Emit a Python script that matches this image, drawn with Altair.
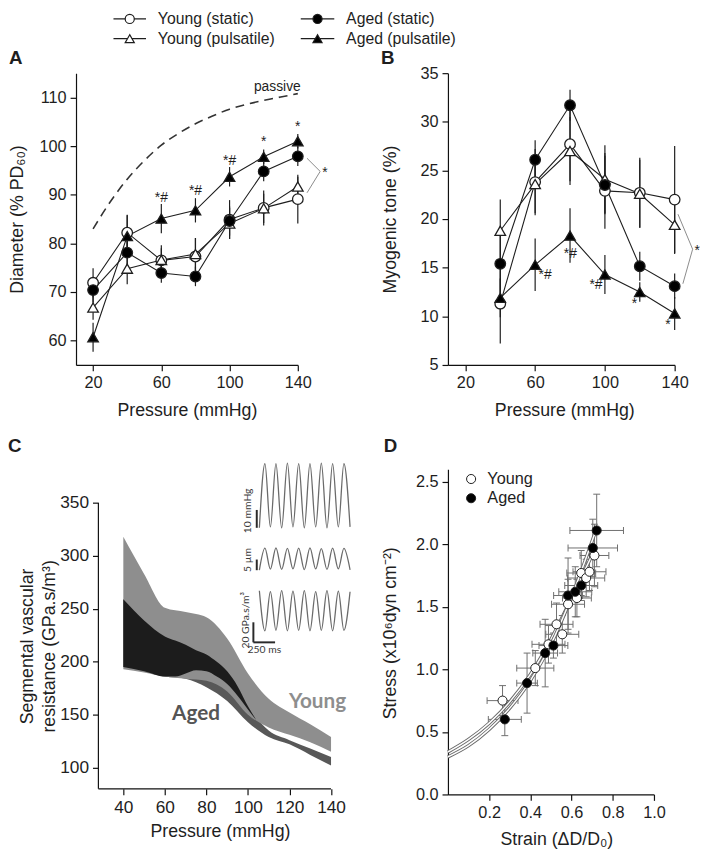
import altair as alt
import pandas as pd

FONT = "Liberation Sans"
INK = "#1e1e1e"

# ---------------- Panel A : diameter ----------------
pressure_A = [20, 40, 60, 80, 100, 120, 140]
young_static_A = [71.9, 82.2, 76.5, 77.3, 84.9, 87.3, 89.1]
young_static_A_err = [3.0, 3.7, 2.5, 3.8, 4.0, 3.6, 5.0]
young_pulsatile_A = [66.8, 74.8, 76.6, 77.8, 84.1, 87.2, 91.7]
young_pulsatile_A_err = [2.5, 3.2, 3.0, 3.3, 3.2, 3.0, 2.0]
aged_static_A = [70.4, 78.1, 73.9, 73.2, 84.6, 94.8, 97.9]
aged_static_A_err = [2.5, 3.5, 2.0, 2.0, 3.0, 2.0, 2.0]
aged_pulsatile_A = [60.7, 81.5, 85.1, 86.8, 93.7, 97.8, 101.0]
aged_pulsatile_A_err = [3.0, 4.3, 3.0, 2.5, 2.0, 1.5, 1.5]

passive_pressure = [20, 30, 40, 50, 60, 70, 80, 90, 100, 110, 120, 130, 140]
passive_diameter = [83.0, 88.5, 93.2, 97.0, 100.2, 102.6, 104.6, 106.2, 107.6, 108.6, 109.4, 110.1, 110.8]

sig_A_pressure = [60, 80, 100, 120, 140]
sig_A_level = [89.4, 90.8, 96.9, 100.8, 103.9]
sig_A_text = ["*#", "*#", "*#", "*", "*"]
bracket_A_pressure = [145.4, 153.1, 145.4]
bracket_A_level = [97.5, 94.8, 90.4]

# ---------------- Panel B : myogenic tone ----------------
pressure_B = [40, 60, 80, 100, 120, 140]
young_static_B = [11.3, 23.8, 27.7, 22.9, 22.7, 22.0]
young_static_B_err = [4.1, 3.4, 3.8, 3.9, 3.6, 5.5]
young_pulsatile_B = [18.8, 23.6, 27.0, 24.1, 22.6, 19.4]
young_pulsatile_B_err = [3.2, 3.0, 3.5, 3.5, 3.5, 3.0]
aged_static_B = [15.4, 26.1, 31.7, 23.5, 15.15, 13.1]
aged_static_B_err = [3.0, 2.0, 1.6, 3.0, 1.5, 1.3]
aged_pulsatile_B = [11.9, 15.3, 18.3, 14.3, 12.5, 10.3]
aged_pulsatile_B_err = [2.0, 2.7, 2.8, 2.0, 1.0, 1.7]

sig_B_pressure = [65.7, 80.2, 94.9, 116.9, 136.2]
sig_B_level = [14.2, 16.4, 13.25, 11.3, 9.1]
sig_B_text = ["*#", "*#", "*#", "*", "*"]
bracket_B_pressure = [141.9, 150.3, 144.7]
bracket_B_level = [20.5, 16.9, 13.35]

# ---------------- Panel C : segmental resistance bands ----------------
pressure_C = [40, 50, 60, 70, 80, 90, 100, 110, 120, 130, 140]
young_hi_C = [318, 283, 251, 247, 242, 222, 189, 165, 152, 141, 129]
young_lo_C = [193, 190, 186, 184, 182, 172, 150, 138, 131, 124, 115]
aged_hi_C = [259, 239, 224, 216, 207, 191, 158, 135, 126, 118, 110]
aged_lo_C = [195, 191, 186, 184, 176, 163, 143, 129, 122, 112, 102]
pressure_C_overlap = [40, 50, 60, 65, 70, 75, 80, 85, 90, 95, 100, 104]
overlap_hi_C = [259, 239, 224, 220, 216, 211, 207, 200, 191, 177, 158, 145]
overlap_lo_C = [195, 191, 186, 186, 189, 192, 191, 186, 179, 168, 155, 145]

# inset traces (time in ms)
inset_time = [0, 64, 127, 191, 257, 323, 387, 453, 518, 583, 649, 714, 779, 844, 910, 974, 1045]
pressure_trace = [42, 78, 42.5, 78, 42, 78.2, 42.5, 78, 42, 78, 42.5, 78.2, 42, 78, 42.5, 78, 42.5]
diameter_trace = [140, 150.3, 140.5, 150.5, 140.4, 150.2, 140.6, 150.4, 140.3, 150.5, 140.6, 150.1, 140.4, 150.3, 140.6, 150.2, 140.2]
resistance_trace = [220, 180, 219, 180.5, 220, 180, 219.5, 180.5, 220, 180, 219, 180.5, 220, 180, 219.5, 180.5, 219]

# ---------------- Panel D : stress-strain ----------------
young_strain = [0.265, 0.424, 0.488, 0.527, 0.555, 0.583, 0.626, 0.647, 0.671, 0.687, 0.711]
young_stress = [0.75, 1.01, 1.20, 1.36, 1.28, 1.52, 1.57, 1.77, 1.73, 1.78, 1.91]
young_strain_err = [0.075, 0.09, 0.08, 0.08, 0.08, 0.08, 0.07, 0.07, 0.09, 0.08, 0.07]
young_stress_err = [0.12, 0.14, 0.15, 0.17, 0.15, 0.20, 0.15, 0.18, 0.15, 0.15, 0.25]
aged_strain = [0.276, 0.384, 0.472, 0.512, 0.583, 0.618, 0.647, 0.703, 0.722]
aged_stress = [0.60, 0.89, 1.13, 1.19, 1.59, 1.62, 1.67, 1.97, 2.11]
aged_strain_err = [0.08, 0.05, 0.06, 0.07, 0.07, 0.08, 0.08, 0.12, 0.13]
aged_stress_err = [0.13, 0.24, 0.27, 0.10, 0.30, 0.20, 0.12, 0.23, 0.29]
young_fit_strain = [0.0, 0.1, 0.2, 0.3, 0.4, 0.5, 0.6, 0.71]
young_fit_stress = [0.34, 0.44, 0.57, 0.74, 0.96, 1.24, 1.57, 1.95]
aged_fit_strain = [0.0, 0.1, 0.2, 0.3, 0.4, 0.5, 0.6, 0.72]
aged_fit_stress = [0.30, 0.39, 0.52, 0.69, 0.91, 1.20, 1.58, 2.12]

groups = ["Young (static)", "Young (pulsatile)", "Aged (static)", "Aged (pulsatile)"]
group_shapes = ["circle", "triangle-up", "circle", "triangle-up"]
group_fills = ["white", "white", "black", "black"]

# ---------------- layout ----------------
A_W, A_H = 225, 296
B_W, B_H = 230, 296
C_PX = 2.107          # px per mmHg in panel C
C_PY = 1.0736         # px per GPa.s/m3 in panel C
C_DX, C_DY = 22.7, 34.3   # offset of C's axes inside its (wider/taller) cell
C_W = 236 + C_DX
C_H = 290 + C_DY
D_W, D_H = 209, 330

one = pd.DataFrame({"a": [0]})


def letter(txt, x, y):
    return alt.Chart(one).mark_text(font=FONT, fontSize=19, fontWeight="bold", color=INK,
                                    align="left", baseline="middle").encode(
        x=alt.value(x), y=alt.value(y), text=alt.value(txt))


def series_panel(pressures, series, errs, xs, ys, xaxis, yaxis):
    rows = []
    for g, vals, es in zip(groups, series, errs):
        for p, v, e in zip(pressures, vals, es):
            rows.append({"p": p, "v": v, "e": e, "g": g})
    df = pd.DataFrame(rows)
    base = alt.Chart(df)
    err = base.transform_calculate(lo="datum.v - datum.e", hi="datum.v + datum.e").mark_rule(
        color=INK, strokeWidth=1.2).encode(
        x=alt.X("p:Q", scale=xs, axis=xaxis), y=alt.Y("lo:Q", scale=ys, axis=yaxis), y2="hi:Q")
    line = base.mark_line(color=INK, strokeWidth=1.1).encode(
        x=alt.X("p:Q", scale=xs, axis=xaxis), y=alt.Y("v:Q", scale=ys, axis=yaxis),
        detail="g:N", order="p:Q")
    pts = base.mark_point(filled=True, stroke=INK, strokeWidth=1.3, opacity=1, size=115).encode(
        x=alt.X("p:Q", scale=xs, axis=xaxis), y=alt.Y("v:Q", scale=ys, axis=yaxis),
        shape=alt.Shape("g:N", scale=alt.Scale(domain=groups, range=group_shapes), legend=None),
        fill=alt.Fill("g:N", scale=alt.Scale(domain=groups, range=group_fills), legend=None))
    return [err, line, pts]


def sig_layers(px, lv, txt, bx, by, xs, ys):
    sig = alt.Chart(pd.DataFrame({"p": px, "v": lv, "s": txt})).mark_text(
        font=FONT, fontSize=14, color=INK, baseline="middle").encode(
        x=alt.X("p:Q", scale=xs), y=alt.Y("v:Q", scale=ys), text="s:N")
    br = pd.DataFrame({"p": bx, "v": by, "i": list(range(len(bx)))})
    bracket = alt.Chart(br).mark_line(color="#8a8a8a", strokeWidth=1).encode(
        x=alt.X("p:Q", scale=xs), y=alt.Y("v:Q", scale=ys), order="i:Q")
    star = alt.Chart(br.iloc[[1]]).mark_text(font=FONT, fontSize=14, color=INK, align="left",
                                             dx=2, dy=2).encode(
        x=alt.X("p:Q", scale=xs), y=alt.Y("v:Q", scale=ys), text=alt.value("*"))
    return [sig, bracket, star]


# ---------------- Panel A ----------------
a_xs = alt.Scale(domain=[10, 140], nice=False, zero=False)
a_ys = alt.Scale(domain=[55, 115], nice=False, zero=False)
a_xaxis = alt.Axis(values=pressure_A, title="Pressure (mmHg)", titleX=A_W / 2, titleY=46)
a_yaxis = alt.Axis(values=[60, 70, 80, 90, 100, 110], title="Diameter (% PD₆₀)", titleX=-59.5, titleY=A_H / 2)

passive = alt.Chart(pd.DataFrame({"p": passive_pressure, "v": passive_diameter})).mark_line(
    color="#333333", strokeWidth=1.6, strokeDash=[9, 6], interpolate="monotone").encode(
    x=alt.X("p:Q", scale=a_xs, axis=a_xaxis), y=alt.Y("v:Q", scale=a_ys, axis=a_yaxis))
passive_lbl = alt.Chart(one).mark_text(font=FONT, fontSize=14, color=INK).encode(
    x=alt.datum(128, scale=a_xs), y=alt.datum(112.2, scale=a_ys), text=alt.value("passive"))

legend_layers = []
leg_pos = [(38, 71, -55), (38, 71, -35), (228, 262, -55), (228, 262, -35)]
for g, shp, fl, (x0, x1, yy) in zip(groups, group_shapes, group_fills, leg_pos):
    legend_layers.append(alt.Chart(one).mark_rule(color=INK, strokeWidth=1.3).encode(
        x=alt.value(x0), x2=alt.value(x1), y=alt.value(yy)))
    legend_layers.append(alt.Chart(one).mark_point(shape=shp, filled=True, fill=fl, stroke=INK,
                                                   strokeWidth=1.2, opacity=1, size=85).encode(
        x=alt.value((x0 + x1) / 2), y=alt.value(yy)))
    legend_layers.append(alt.Chart(one).mark_text(font=FONT, fontSize=16, color=INK, align="left",
                                                  baseline="middle").encode(
        x=alt.value(x1 + 12), y=alt.value(yy), text=alt.value(g)))

panel_A = alt.layer(
    passive, passive_lbl,
    *series_panel(pressure_A,
                  [young_static_A, young_pulsatile_A, aged_static_A, aged_pulsatile_A],
                  [young_static_A_err, young_pulsatile_A_err, aged_static_A_err, aged_pulsatile_A_err],
                  a_xs, a_ys, a_xaxis, a_yaxis),
    *sig_layers(sig_A_pressure, sig_A_level, sig_A_text, bracket_A_pressure, bracket_A_level, a_xs, a_ys),
    *legend_layers,
    letter("A", -68, -15),
).properties(width=A_W, height=A_H)

# ---------------- Panel B ----------------
b_xs = alt.Scale(domain=[10, 140], nice=False, zero=False)
b_ys = alt.Scale(domain=[5, 35], nice=False, zero=False)
b_xaxis = alt.Axis(values=[20, 40, 60, 80, 100, 120, 140], title="Pressure (mmHg)", titleX=B_W / 2 + 3, titleY=46)
b_yaxis = alt.Axis(values=[5, 10, 15, 20, 25, 30, 35], title="Myogenic tone (%)", titleX=-58, titleY=B_H / 2)

panel_B = alt.layer(
    *series_panel(pressure_B,
                  [young_static_B, young_pulsatile_B, aged_static_B, aged_pulsatile_B],
                  [young_static_B_err, young_pulsatile_B_err, aged_static_B_err, aged_pulsatile_B_err],
                  b_xs, b_ys, b_xaxis, b_yaxis),
    *sig_layers(sig_B_pressure, sig_B_level, sig_B_text, bracket_B_pressure, bracket_B_level, b_xs, b_ys),
    letter("B", -68, -15),
).properties(width=B_W, height=B_H)

# ---------------- Panel C ----------------
c_xs = alt.Scale(domain=[28 - C_DX / C_PX, 140], nice=False, zero=False)
c_ys = alt.Scale(domain=[80, 350 + C_DY / C_PY], nice=False, zero=False)
c_xaxis = alt.Axis(values=[40, 60, 80, 100, 120, 140], title="Pressure (mmHg)", titleX=146, titleY=43,
                   labelFontSize=17.5, domain=False)
c_yaxis = alt.Axis(values=[100, 150, 200, 250, 300, 350],
                   title=["Segmental vascular", "resistance (GPa.s/m³)"],
                   titleX=-72, titleY=C_DY + 145, titleLineHeight=22, labelFontSize=17.5,
                   domain=False, offset=-C_DX)

bands = pd.DataFrame({"p": pressure_C, "yh": young_hi_C, "yl": young_lo_C,
                      "ah": aged_hi_C, "al": aged_lo_C})
overlap = pd.DataFrame({"p": pressure_C_overlap, "oh": overlap_hi_C, "ol": overlap_lo_C})
aged_band = alt.Chart(bands).mark_area(color="#585858", opacity=1, interpolate="monotone").encode(
    x=alt.X("p:Q", scale=c_xs, axis=c_xaxis), y=alt.Y("ah:Q", scale=c_ys, axis=c_yaxis), y2="al:Q")
young_band = alt.Chart(bands).mark_area(color="#8e8e8e", opacity=1, interpolate="monotone").encode(
    x=alt.X("p:Q", scale=c_xs, axis=c_xaxis), y=alt.Y("yh:Q", scale=c_ys, axis=c_yaxis), y2="yl:Q")
overlap_band = alt.Chart(overlap).mark_area(color="#1c1c1c", opacity=1, interpolate="monotone").encode(
    x=alt.X("p:Q", scale=c_xs, axis=c_xaxis), y=alt.Y("oh:Q", scale=c_ys, axis=c_yaxis), y2="ol:Q")
# axis lines of panel C (x from 28 to 140 at the bottom, y from 80 to 350)
c_axis_lines = alt.Chart(pd.DataFrame({"x1": [28, 28], "x2": [140, 28], "y1": [80, 80], "y2": [80, 350]})).mark_rule(
    color="#111111", strokeWidth=1.2).encode(
    x=alt.X("x1:Q", scale=c_xs, axis=c_xaxis), x2="x2:Q",
    y=alt.Y("y1:Q", scale=c_ys, axis=c_yaxis), y2="y2:Q")
aged_lbl = alt.Chart(one).mark_text(font="Lato", fontSize=21, fontWeight="bold", color="#555555").encode(
    x=alt.datum(75, scale=c_xs), y=alt.datum(151, scale=c_ys), text=alt.value("Aged"))
young_lbl = alt.Chart(one).mark_text(font="Lato", fontSize=21, fontWeight="bold", color="#8e8e8e").encode(
    x=alt.datum(133.5, scale=c_xs), y=alt.datum(161.5, scale=c_ys), text=alt.value("Young"))

c_base = alt.layer(aged_band, young_band, overlap_band, c_axis_lines, aged_lbl, young_lbl,
                   letter("C", -69, -23))


def lin_domain_x(va, pa, vb, pb, width):
    k = (pb - pa) / (vb - va)
    d0 = va - pa / k
    return [d0, d0 + width / k]


def lin_domain_y(va, pa, vb, pb, height):
    k = (pa - pb) / (vb - va)
    d1 = va + pa / k
    return [d1 - height / k, d1]


inset_xdom = lin_domain_x(0, C_DX + 163.3, 1045, C_DX + 255.3, C_W)


def inset(values, ydom, bars, vlabels, hlabels):
    xs = alt.Scale(domain=inset_xdom, nice=False, zero=False)
    ys = alt.Scale(domain=ydom, nice=False, zero=False)
    layers = [alt.Chart(pd.DataFrame({"t": inset_time, "v": values})).mark_line(
        color="#6a6a6a", strokeWidth=1.3, interpolate="monotone").encode(
        x=alt.X("t:Q", scale=xs, axis=None), y=alt.Y("v:Q", scale=ys, axis=None))]
    layers.append(alt.Chart(pd.DataFrame(bars, columns=["t1", "t2", "v1", "v2"])).mark_rule(
        color="#2a2a2a", strokeWidth=2).encode(
        x=alt.X("t1:Q", scale=xs, axis=None), x2="t2:Q",
        y=alt.Y("v1:Q", scale=ys, axis=None), y2="v2:Q"))
    if vlabels:
        layers.append(alt.Chart(pd.DataFrame(vlabels, columns=["t", "v", "s"])).mark_text(
            font="Lato", fontSize=10.5, color="#3a3a3a", angle=270, baseline="middle").encode(
            x=alt.X("t:Q", scale=xs, axis=None), y=alt.Y("v:Q", scale=ys, axis=None), text="s:N"))
    if hlabels:
        layers.append(alt.Chart(pd.DataFrame(hlabels, columns=["t", "v", "s"])).mark_text(
            font="Lato", fontSize=10.5, color="#3a3a3a", baseline="middle").encode(
            x=alt.X("t:Q", scale=xs, axis=None), y=alt.Y("v:Q", scale=ys, axis=None), text="s:N"))
    return alt.layer(*layers)


inset_p = inset(pressure_trace, lin_domain_y(42, C_DY + 25.2, 78, C_DY - 40, C_H),
                [(-30, -30, 42, 52)], [(-128, 51.5, "10 mmHg")], None)
inset_d = inset(diameter_trace, lin_domain_y(140, C_DY + 68.2, 150.4, C_DY + 45.7, C_H),
                [(-30, -30, 140, 145)], [(-128, 144.8, "5 µm")], None)
inset_r = inset(resistance_trace, lin_domain_y(180, C_DY + 129.7, 220, C_DY + 89, C_H),
                [(-69, -69, 168.5, 188.5), (-69, 181, 168.5, 168.5)],
                [(-156, 190.5, "20 GPa.s/m³")], [(58, 161, "250 ms")])

panel_C = alt.layer(c_base, inset_p, inset_d, inset_r).resolve_scale(
    x="independent", y="independent").properties(width=C_W, height=C_H)

# ---------------- Panel D ----------------
d_xs = alt.Scale(domain=[0, 1.0], nice=False, zero=False)
d_ys = alt.Scale(domain=[0, 2.6], nice=False, zero=False)
d_xaxis = alt.Axis(values=[0.2, 0.4, 0.6, 0.8, 1.0], format=".1f", title="Strain (ΔD/D₀)",
                   titleX=110, titleY=46)
d_yaxis = alt.Axis(values=[0, 0.5, 1.0, 1.5, 2.0, 2.5], format=".1f",
                   title="Stress (x10⁶dyn cm⁻²)", titleX=-58.5, titleY=166)

pts_rows = []
for s, st, se, te in zip(young_strain, young_stress, young_strain_err, young_stress_err):
    pts_rows.append({"x": s, "y": st, "xe": se, "ye": te, "grp": "Young"})
for s, st, se, te in zip(aged_strain, aged_stress, aged_strain_err, aged_stress_err):
    pts_rows.append({"x": s, "y": st, "xe": se, "ye": te, "grp": "Aged"})
dpts = pd.DataFrame(pts_rows)
dbase = alt.Chart(dpts).transform_calculate(
    xlo="datum.x - datum.xe", xhi="datum.x + datum.xe",
    ylo="datum.y - datum.ye", yhi="datum.y + datum.ye")
EB = "#6e6e6e"
hbar = dbase.mark_rule(color=EB, strokeWidth=1).encode(
    x=alt.X("xlo:Q", scale=d_xs, axis=d_xaxis), x2="xhi:Q", y=alt.Y("y:Q", scale=d_ys, axis=d_yaxis))
vbar = dbase.mark_rule(color=EB, strokeWidth=1).encode(
    x=alt.X("x:Q", scale=d_xs, axis=d_xaxis), y=alt.Y("ylo:Q", scale=d_ys, axis=d_yaxis), y2="yhi:Q")
caps = []
for f in ["xlo", "xhi"]:
    caps.append(dbase.mark_tick(orient="vertical", size=7, thickness=1, color=EB, opacity=1).encode(
        x=alt.X(f + ":Q", scale=d_xs, axis=d_xaxis), y=alt.Y("y:Q", scale=d_ys, axis=d_yaxis)))
for f in ["ylo", "yhi"]:
    caps.append(dbase.mark_tick(orient="horizontal", size=7, thickness=1, color=EB, opacity=1).encode(
        x=alt.X("x:Q", scale=d_xs, axis=d_xaxis), y=alt.Y(f + ":Q", scale=d_ys, axis=d_yaxis)))

fits = []
for fx, fy in [(young_fit_strain, young_fit_stress), (aged_fit_strain, aged_fit_stress)]:
    fdf = pd.DataFrame({"x": fx, "y": fy})
    fits.append(alt.Chart(fdf).mark_line(color="#6a6a6a", strokeWidth=3.4, interpolate="monotone").encode(
        x=alt.X("x:Q", scale=d_xs, axis=d_xaxis), y=alt.Y("y:Q", scale=d_ys, axis=d_yaxis)))
    fits.append(alt.Chart(fdf).mark_line(color="white", strokeWidth=1.5, interpolate="monotone").encode(
        x=alt.X("x:Q", scale=d_xs, axis=d_xaxis), y=alt.Y("y:Q", scale=d_ys, axis=d_yaxis)))

dots = alt.Chart(dpts).mark_point(shape="circle", filled=True, stroke=INK, strokeWidth=1,
                                  opacity=1, size=85).encode(
    x=alt.X("x:Q", scale=d_xs, axis=d_xaxis), y=alt.Y("y:Q", scale=d_ys, axis=d_yaxis),
    fill=alt.Fill("grp:N", scale=alt.Scale(domain=["Young", "Aged"], range=["white", "black"]), legend=None))

d_legend = []
for name, fl, yy in [("Young", "white", 10), ("Aged", "black", 29.5)]:
    d_legend.append(alt.Chart(one).mark_point(shape="circle", filled=True, fill=fl, stroke=INK,
                                              strokeWidth=1, opacity=1, size=85).encode(
        x=alt.value(23.5), y=alt.value(yy)))
    d_legend.append(alt.Chart(one).mark_text(font=FONT, fontSize=16.5, color=INK, align="left",
                                             baseline="middle").encode(
        x=alt.value(40), y=alt.value(yy), text=alt.value(name)))

panel_D = alt.layer(hbar, vbar, *caps, *fits, dots, *d_legend, letter("D", -65, -23)).properties(
    width=D_W, height=D_H)

chart = alt.concat(panel_A, panel_B, panel_C, panel_D, columns=2, bounds="flush",
                   spacing={"row": 470 - 68.3 - A_H, "column": 454 - 77 - C_W}).resolve_scale(
    fill="independent", shape="independent"
).properties(
    padding={"top": -3, "left": 0, "right": 0, "bottom": 0}, background="white"
).configure_view(stroke=None).configure_axis(
    domainColor="#111111", domainWidth=1.2, tickColor="#111111", tickWidth=1.2, tickSize=6,
    labelFont=FONT, labelFontSize=16.5, labelColor=INK, labelPadding=4, labelFlush=False,
    titleFont=FONT, titleFontSize=18, titleFontWeight="normal", titleColor=INK,
    titleAlign="center", titleBaseline="middle", grid=False
)

chart.save("out.html", embed_options={"renderer": "svg", "actions": False})
